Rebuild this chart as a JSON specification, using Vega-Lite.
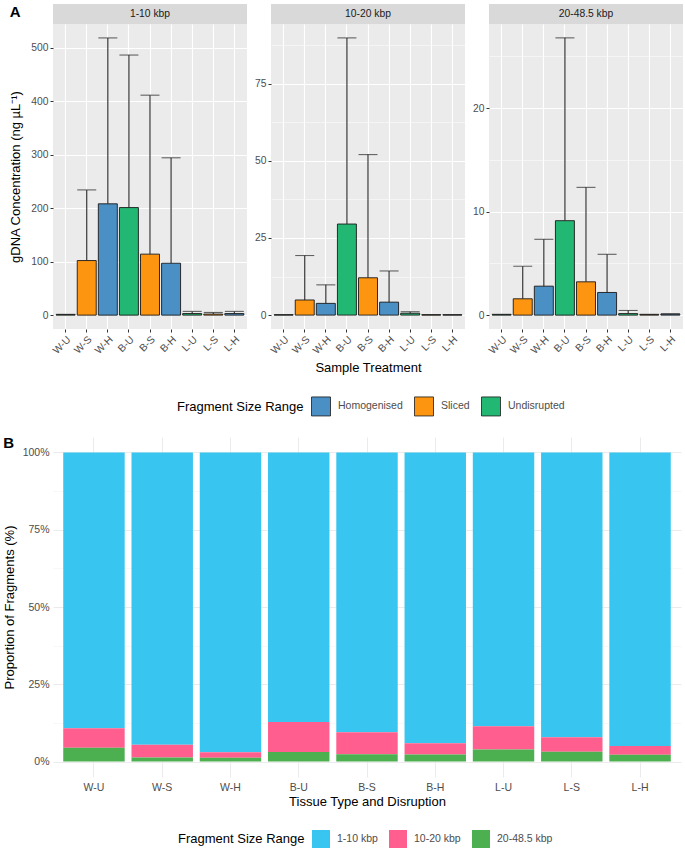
{
  "$schema": "https://vega.github.io/schema/vega-lite/v6.json",
  "background": "white",
  "padding": {"left": 3, "top": 4, "right": 3, "bottom": 2},
  "datasets": {
    "conc": [
      {"panel": "1-10 kbp", "treatment": "W-U", "group": "Undisrupted", "mean": 1, "upper": 1.5},
      {"panel": "1-10 kbp", "treatment": "W-S", "group": "Sliced", "mean": 102, "upper": 234},
      {"panel": "1-10 kbp", "treatment": "W-H", "group": "Homogenised", "mean": 208, "upper": 518},
      {"panel": "1-10 kbp", "treatment": "B-U", "group": "Undisrupted", "mean": 201, "upper": 486},
      {"panel": "1-10 kbp", "treatment": "B-S", "group": "Sliced", "mean": 114, "upper": 411},
      {"panel": "1-10 kbp", "treatment": "B-H", "group": "Homogenised", "mean": 97, "upper": 294},
      {"panel": "1-10 kbp", "treatment": "L-U", "group": "Undisrupted", "mean": 3, "upper": 7},
      {"panel": "1-10 kbp", "treatment": "L-S", "group": "Sliced", "mean": 2, "upper": 5},
      {"panel": "1-10 kbp", "treatment": "L-H", "group": "Homogenised", "mean": 3, "upper": 7},
      {"panel": "10-20 kbp", "treatment": "W-U", "group": "Undisrupted", "mean": 0.1, "upper": 0.15},
      {"panel": "10-20 kbp", "treatment": "W-S", "group": "Sliced", "mean": 4.9, "upper": 19.3},
      {"panel": "10-20 kbp", "treatment": "W-H", "group": "Homogenised", "mean": 3.8, "upper": 9.8},
      {"panel": "10-20 kbp", "treatment": "B-U", "group": "Undisrupted", "mean": 29.5, "upper": 89.8},
      {"panel": "10-20 kbp", "treatment": "B-S", "group": "Sliced", "mean": 12.1, "upper": 52},
      {"panel": "10-20 kbp", "treatment": "B-H", "group": "Homogenised", "mean": 4.2, "upper": 14.3},
      {"panel": "10-20 kbp", "treatment": "L-U", "group": "Undisrupted", "mean": 0.6, "upper": 1.1},
      {"panel": "10-20 kbp", "treatment": "L-S", "group": "Sliced", "mean": 0.1, "upper": 0.15},
      {"panel": "10-20 kbp", "treatment": "L-H", "group": "Homogenised", "mean": 0.1, "upper": 0.15},
      {"panel": "20-48.5 kbp", "treatment": "W-U", "group": "Undisrupted", "mean": 0.05, "upper": 0.08},
      {"panel": "20-48.5 kbp", "treatment": "W-S", "group": "Sliced", "mean": 1.58, "upper": 4.73},
      {"panel": "20-48.5 kbp", "treatment": "W-H", "group": "Homogenised", "mean": 2.8, "upper": 7.33},
      {"panel": "20-48.5 kbp", "treatment": "B-U", "group": "Undisrupted", "mean": 9.13, "upper": 26.8},
      {"panel": "20-48.5 kbp", "treatment": "B-S", "group": "Sliced", "mean": 3.22, "upper": 12.35},
      {"panel": "20-48.5 kbp", "treatment": "B-H", "group": "Homogenised", "mean": 2.19, "upper": 5.88},
      {"panel": "20-48.5 kbp", "treatment": "L-U", "group": "Undisrupted", "mean": 0.15, "upper": 0.45},
      {"panel": "20-48.5 kbp", "treatment": "L-S", "group": "Sliced", "mean": 0.05, "upper": 0.08},
      {"panel": "20-48.5 kbp", "treatment": "L-H", "group": "Homogenised", "mean": 0.1, "upper": 0.13}
    ],
    "prop": [
      {"sample": "W-U", "size": "1-10 kbp", "pct": 89.2}, {"sample": "W-U", "size": "10-20 kbp", "pct": 6.3}, {"sample": "W-U", "size": "20-48.5 kbp", "pct": 4.5},
      {"sample": "W-S", "size": "1-10 kbp", "pct": 94.6}, {"sample": "W-S", "size": "10-20 kbp", "pct": 4.1}, {"sample": "W-S", "size": "20-48.5 kbp", "pct": 1.3},
      {"sample": "W-H", "size": "1-10 kbp", "pct": 97.0}, {"sample": "W-H", "size": "10-20 kbp", "pct": 1.8}, {"sample": "W-H", "size": "20-48.5 kbp", "pct": 1.2},
      {"sample": "B-U", "size": "1-10 kbp", "pct": 87.2}, {"sample": "B-U", "size": "10-20 kbp", "pct": 9.7}, {"sample": "B-U", "size": "20-48.5 kbp", "pct": 3.1},
      {"sample": "B-S", "size": "1-10 kbp", "pct": 90.5}, {"sample": "B-S", "size": "10-20 kbp", "pct": 7.1}, {"sample": "B-S", "size": "20-48.5 kbp", "pct": 2.4},
      {"sample": "B-H", "size": "1-10 kbp", "pct": 94.1}, {"sample": "B-H", "size": "10-20 kbp", "pct": 3.6}, {"sample": "B-H", "size": "20-48.5 kbp", "pct": 2.3},
      {"sample": "L-U", "size": "1-10 kbp", "pct": 88.6}, {"sample": "L-U", "size": "10-20 kbp", "pct": 7.5}, {"sample": "L-U", "size": "20-48.5 kbp", "pct": 3.9},
      {"sample": "L-S", "size": "1-10 kbp", "pct": 92.1}, {"sample": "L-S", "size": "10-20 kbp", "pct": 4.7}, {"sample": "L-S", "size": "20-48.5 kbp", "pct": 3.2},
      {"sample": "L-H", "size": "1-10 kbp", "pct": 95.0}, {"sample": "L-H", "size": "10-20 kbp", "pct": 2.8}, {"sample": "L-H", "size": "20-48.5 kbp", "pct": 2.2}
    ]
  },
  "config": {
    "font": "Liberation Sans",
    "view": {"stroke": null},
    "axis": {
      "domain": false,
      "labelFontSize": 10.3,
      "labelColor": "#4D4D4D",
      "titleFontSize": 13,
      "titleFontWeight": "normal",
      "titleColor": "#000000",
      "tickColor": "#333333",
      "tickSize": 3,
      "labelPadding": 2
    },
    "legend": {
      "orient": "none",
      "direction": "horizontal",
      "titleOrient": "left",
      "titleFontSize": 13,
      "titleFontWeight": "normal",
      "titleColor": "#000000",
      "titlePadding": 7,
      "labelFontSize": 10.5,
      "labelColor": "#4D4D4D",
      "labelOffset": 7,
      "symbolType": "square",
      "symbolOpacity": 1
    },
    "title": {"fontSize": 15, "fontWeight": "bold", "color": "#000000", "anchor": "start", "frame": "bounds"}
  },
  "resolve": {"scale": {"color": "independent"}, "legend": {"color": "independent"}},
  "spacing": 18,
  "vconcat": [
    {
      "title": {"text": "A", "offset": -16},
      "spacing": 0,
      "vconcat": [
        {
          "spacing": 24,
          "hconcat": [
            {"width": 194, "height": 20, "view": {"fill": "#D9D9D9", "stroke": null}, "data": {"values": [{"panel": "1-10 kbp"}]}, "mark": {"type": "text", "fontSize": 10.3, "color": "#1A1A1A"}, "encoding": {"text": {"field": "panel"}}},
            {"width": 194, "height": 20, "view": {"fill": "#D9D9D9", "stroke": null}, "data": {"values": [{"panel": "10-20 kbp"}]}, "mark": {"type": "text", "fontSize": 10.3, "color": "#1A1A1A"}, "encoding": {"text": {"field": "panel"}}},
            {"width": 194, "height": 20, "view": {"fill": "#D9D9D9", "stroke": null}, "data": {"values": [{"panel": "20-48.5 kbp"}]}, "mark": {"type": "text", "fontSize": 10.3, "color": "#1A1A1A"}, "encoding": {"text": {"field": "panel"}}}
          ]
        },
        {
          "spacing": 24,
          "bounds": "flush",
          "hconcat": [
            {
              "width": 194, "height": 305,
              "view": {"fill": "#EBEBEB", "stroke": null},
              "data": {"name": "conc"},
              "transform": [{"filter": "datum.panel === '1-10 kbp'"}],
              "encoding": {
                "x": {"field": "treatment", "type": "nominal", "sort": ["W-U", "W-S", "W-H", "B-U", "B-S", "B-H", "L-U", "L-S", "L-H"], "scale": {"paddingInner": 0.1, "paddingOuter": 0.15},
                      "axis": {"title": null, "labelAngle": -45, "grid": true, "gridColor": "white", "gridWidth": 1.1, "bandPosition": 0.5}}
              },
              "layer": [
                {
                  "mark": {"type": "bar", "stroke": "#1A1A1A", "strokeWidth": 0.9},
                  "encoding": {
                    "y": {"field": "mean", "type": "quantitative", "stack": null, "scale": {"domain": [-25.9, 544], "nice": false, "zero": false},
                          "axis": {"title": "gDNA Concentration (ng µL⁻¹)", "titlePadding": 8, "values": [0, 50, 100, 150, 200, 250, 300, 350, 400, 450, 500],
                                   "labelExpr": "datum.value % 100 === 0 ? datum.label : ''",
                                   "gridColor": "white",
                                   "gridWidth": {"condition": {"test": "datum.value % 100 === 0", "value": 1.1}, "value": 0.5},
                                   "tickColor": {"condition": {"test": "datum.value % 100 === 0", "value": "#333333"}, "value": "transparent"}}},
                    "y2": {"datum": 0},
                    "color": {"field": "group", "type": "nominal", "title": "Fragment Size Range",
                              "scale": {"domain": ["Homogenised", "Sliced", "Undisrupted"], "range": ["#4A90C4", "#FD9510", "#22B773"]},
                              "legend": {"legendX": 124, "legendY": 392, "symbolSize": 361, "symbolStrokeColor": "#1A1A1A", "symbolStrokeWidth": 0.8, "columnPadding": 9}}
                  }
                },
                {"mark": {"type": "rule", "color": "#262626", "strokeWidth": 1.1}, "encoding": {"y": {"field": "mean", "type": "quantitative"}, "y2": {"field": "upper"}}},
                {"mark": {"type": "tick", "color": "#262626", "thickness": 1.1, "size": 19, "orient": "horizontal"}, "encoding": {"y": {"field": "upper", "type": "quantitative"}}}
              ]
            },
            {
              "width": 194, "height": 305,
              "view": {"fill": "#EBEBEB", "stroke": null},
              "data": {"name": "conc"},
              "transform": [{"filter": "datum.panel === '10-20 kbp'"}],
              "encoding": {
                "x": {"field": "treatment", "type": "nominal", "sort": ["W-U", "W-S", "W-H", "B-U", "B-S", "B-H", "L-U", "L-S", "L-H"], "scale": {"paddingInner": 0.1, "paddingOuter": 0.15},
                      "axis": {"title": "Sample Treatment", "titlePadding": 6, "labelAngle": -45, "grid": true, "gridColor": "white", "gridWidth": 1.1, "bandPosition": 0.5}}
              },
              "layer": [
                {
                  "mark": {"type": "bar", "stroke": "#1A1A1A", "strokeWidth": 0.9},
                  "encoding": {
                    "y": {"field": "mean", "type": "quantitative", "stack": null, "scale": {"domain": [-4.5, 94.3], "nice": false, "zero": false},
                          "axis": {"title": null, "values": [0, 12.5, 25, 37.5, 50, 62.5, 75, 87.5],
                                   "labelExpr": "datum.value % 25 === 0 ? datum.label : ''",
                                   "gridColor": "white",
                                   "gridWidth": {"condition": {"test": "datum.value % 25 === 0", "value": 1.1}, "value": 0.5},
                                   "tickColor": {"condition": {"test": "datum.value % 25 === 0", "value": "#333333"}, "value": "transparent"}}},
                    "y2": {"datum": 0},
                    "color": {"field": "group", "type": "nominal", "title": "Fragment Size Range",
                              "scale": {"domain": ["Homogenised", "Sliced", "Undisrupted"], "range": ["#4A90C4", "#FD9510", "#22B773"]},
                              "legend": {"legendX": 124, "legendY": 392, "symbolSize": 361, "symbolStrokeColor": "#1A1A1A", "symbolStrokeWidth": 0.8, "columnPadding": 9}}
                  }
                },
                {"mark": {"type": "rule", "color": "#262626", "strokeWidth": 1.1}, "encoding": {"y": {"field": "mean", "type": "quantitative"}, "y2": {"field": "upper"}}},
                {"mark": {"type": "tick", "color": "#262626", "thickness": 1.1, "size": 19, "orient": "horizontal"}, "encoding": {"y": {"field": "upper", "type": "quantitative"}}}
              ]
            },
            {
              "width": 194, "height": 305,
              "view": {"fill": "#EBEBEB", "stroke": null},
              "data": {"name": "conc"},
              "transform": [{"filter": "datum.panel === '20-48.5 kbp'"}],
              "encoding": {
                "x": {"field": "treatment", "type": "nominal", "sort": ["W-U", "W-S", "W-H", "B-U", "B-S", "B-H", "L-U", "L-S", "L-H"], "scale": {"paddingInner": 0.1, "paddingOuter": 0.15},
                      "axis": {"title": null, "labelAngle": -45, "grid": true, "gridColor": "white", "gridWidth": 1.1, "bandPosition": 0.5}}
              },
              "layer": [
                {
                  "mark": {"type": "bar", "stroke": "#1A1A1A", "strokeWidth": 0.9},
                  "encoding": {
                    "y": {"field": "mean", "type": "quantitative", "stack": null, "scale": {"domain": [-1.34, 28.14], "nice": false, "zero": false},
                          "axis": {"title": null, "values": [0, 5, 10, 15, 20, 25],
                                   "labelExpr": "datum.value % 10 === 0 ? datum.label : ''",
                                   "gridColor": "white",
                                   "gridWidth": {"condition": {"test": "datum.value % 10 === 0", "value": 1.1}, "value": 0.5},
                                   "tickColor": {"condition": {"test": "datum.value % 10 === 0", "value": "#333333"}, "value": "transparent"}}},
                    "y2": {"datum": 0},
                    "color": {"field": "group", "type": "nominal", "title": "Fragment Size Range",
                              "scale": {"domain": ["Homogenised", "Sliced", "Undisrupted"], "range": ["#4A90C4", "#FD9510", "#22B773"]},
                              "legend": {"legendX": 124, "legendY": 392, "symbolSize": 361, "symbolStrokeColor": "#1A1A1A", "symbolStrokeWidth": 0.8, "columnPadding": 9}}
                  }
                },
                {"mark": {"type": "rule", "color": "#262626", "strokeWidth": 1.1}, "encoding": {"y": {"field": "mean", "type": "quantitative"}, "y2": {"field": "upper"}}},
                {"mark": {"type": "tick", "color": "#262626", "thickness": 1.1, "size": 19, "orient": "horizontal"}, "encoding": {"y": {"field": "upper", "type": "quantitative"}}}
              ]
            }
          ]
        }
      ]
    },
    {
      "title": {"text": "B", "offset": -14},
      "width": 628, "height": 340,
      "view": {"fill": "white", "stroke": null},
      "data": {"name": "prop"},
      "mark": {"type": "bar"},
      "encoding": {
        "x": {"field": "sample", "type": "nominal", "sort": ["W-U", "W-S", "W-H", "B-U", "B-S", "B-H", "L-U", "L-S", "L-H"], "scale": {"paddingInner": 0.1, "paddingOuter": 0.15},
              "axis": {"title": "Tissue Type and Disruption", "titlePadding": 3, "labelAngle": 0, "ticks": false, "labelPadding": 5, "grid": true, "gridColor": "#EBEBEB", "gridWidth": 1, "bandPosition": 0.5, "labelFontSize": 10.5}},
        "y": {"field": "pct", "type": "quantitative", "stack": "zero", "scale": {"domain": [-5, 105], "nice": false, "zero": false},
              "axis": {"title": "Proportion of Fragments (%)", "titlePadding": 6, "ticks": false, "labelPadding": 4, "labelFontSize": 10.5,
                       "values": [0, 12.5, 25, 37.5, 50, 62.5, 75, 87.5, 100],
                       "labelExpr": "datum.value % 25 === 0 ? datum.value + '%' : ''",
                       "gridColor": {"condition": {"test": "datum.value % 25 === 0", "value": "#EBEBEB"}, "value": "#F3F3F3"},
                       "gridWidth": {"condition": {"test": "datum.value % 25 === 0", "value": 1}, "value": 0.6}}},
        "color": {"field": "size", "type": "nominal", "title": "Fragment Size Range",
                  "scale": {"domain": ["1-10 kbp", "10-20 kbp", "20-48.5 kbp"], "range": ["#38C6F0", "#FF5E8E", "#4CAF50"]},
                  "legend": {"legendX": 125, "legendY": 393, "symbolSize": 324, "symbolStrokeWidth": 0, "columnPadding": 11}},
        "order": {"field": "size", "sort": "descending"}
      }
    }
  ]
}
